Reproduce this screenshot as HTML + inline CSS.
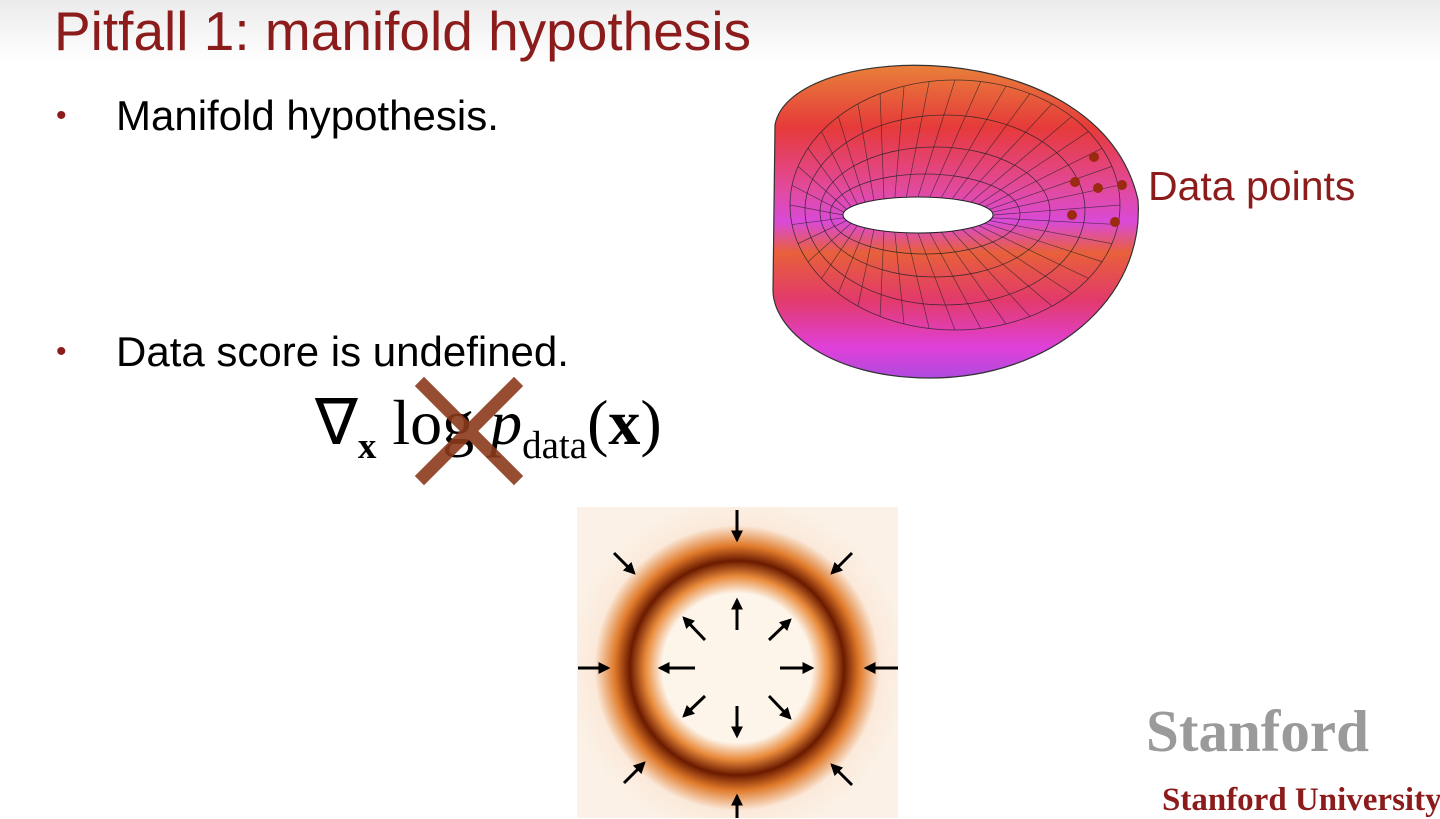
<!DOCTYPE html>
<html><head><meta charset="utf-8"><style>
body{margin:0;width:1440px;height:818px;overflow:hidden;background:#fff;position:relative;font-family:"Liberation Sans",sans-serif}
.a{position:absolute}
</style></head><body>
<div class="a" style="left:0;top:0;width:1440px;height:62px;background:linear-gradient(#ebebeb,#fff)"></div>
<div class="a" style="left:54px;top:-1px;font-size:55px;color:#8c1c1c;white-space:nowrap">Pitfall 1: manifold hypothesis</div>
<div class="a" style="left:56px;top:92px;font-size:42px;color:#000"><span style="color:#8c1c1c;font-size:30px;position:relative;top:-5px">•</span><span style="position:absolute;left:60px;white-space:nowrap">Manifold hypothesis.</span></div>
<div class="a" style="left:56px;top:328px;font-size:42px;color:#000"><span style="color:#8c1c1c;font-size:30px;position:relative;top:-5px">•</span><span style="position:absolute;left:60px;white-space:nowrap">Data score is undefined.</span></div>
<div class="a" style="left:315px;top:386px;font-family:'Liberation Serif',serif;font-size:64px;white-space:nowrap">∇<sub style="font-size:37px;font-weight:bold">x</sub> log <i>p</i><sub style="font-size:39px">data</sub>(<b>x</b>)</div>
<svg class="a" style="left:0;top:0" width="1440" height="818">
<defs>
<linearGradient id="mb" x1="0" y1="0" x2="0" y2="1">
<stop offset="0" stop-color="#e8803a"/><stop offset=".2" stop-color="#e63a3a"/><stop offset=".4" stop-color="#e24aa0"/><stop offset=".5" stop-color="#d94ad8"/><stop offset=".6" stop-color="#e8603a"/><stop offset=".75" stop-color="#e23a6a"/><stop offset=".9" stop-color="#e040d8"/><stop offset="1" stop-color="#b04ae0"/></linearGradient>
<radialGradient id="rg" cx="737" cy="668" r="170" gradientUnits="userSpaceOnUse">
<stop offset="0.44" stop-color="#fdf4ea"/><stop offset="0.54" stop-color="#e98a3a"/><stop offset="0.63" stop-color="#6b1a00"/><stop offset="0.72" stop-color="#e07a2a"/><stop offset="0.84" stop-color="#fbeadb"/><stop offset="1" stop-color="#fbf1e6"/></radialGradient>
<marker id="ah" viewBox="0 0 10 10" refX="8" refY="5" markerWidth="4" markerHeight="4" orient="auto"><path d="M0,0 L10,5 L0,10 Z" fill="#000"/></marker>
</defs>
<g>
<path d="M775,125 C790,40 1100,30 1138,200 C1145,300 1050,378 930,378 C830,378 773,330 773,290 Z" fill="url(#mb)" stroke="#333" stroke-width="1.2"/>
<g fill="none" stroke="#222" stroke-width="0.8" opacity="0.8">
<ellipse cx="955" cy="205" rx="165" ry="125"/><ellipse cx="945" cy="210" rx="140" ry="95"/><ellipse cx="935" cy="212" rx="115" ry="65"/><ellipse cx="925" cy="214" rx="95" ry="40"/>
</g>
<g stroke="#222" stroke-width="0.7" opacity="0.7" id="rad"></g>
<ellipse cx="918" cy="215" rx="75" ry="18" fill="#fff" stroke="#222"/>
</g>
<g fill="#9a2a10">
<circle cx="1094" cy="157" r="5"/><circle cx="1075" cy="182" r="5"/><circle cx="1098" cy="188" r="5"/><circle cx="1122" cy="185" r="5"/><circle cx="1072" cy="215" r="5"/><circle cx="1115" cy="222" r="5"/>
</g>
<rect x="577" y="507" width="321" height="311" fill="url(#rg)"/>
<g stroke="#000" stroke-width="3" marker-end="url(#ah)">
<line x1="737" y1="510" x2="737" y2="540"/><line x1="737" y1="830" x2="737" y2="796"/><line x1="578" y1="668" x2="608" y2="668"/><line x1="898" y1="668" x2="866" y2="668"/>
<line x1="614" y1="553" x2="634" y2="573"/><line x1="852" y1="553" x2="832" y2="573"/><line x1="624" y1="783" x2="644" y2="763"/><line x1="852" y1="785" x2="832" y2="765"/>
<line x1="737" y1="630" x2="737" y2="600"/><line x1="737" y1="706" x2="737" y2="736"/><line x1="695" y1="668" x2="660" y2="668"/><line x1="780" y1="668" x2="812" y2="668"/>
<line x1="705" y1="640" x2="684" y2="618"/><line x1="769" y1="640" x2="790" y2="620"/><line x1="705" y1="696" x2="684" y2="716"/><line x1="769" y1="696" x2="790" y2="718"/>
</g>
<g stroke="#8b3a1c" stroke-width="13" stroke-linecap="square" opacity="0.9">
<line x1="424" y1="386" x2="514" y2="476"/><line x1="514" y1="386" x2="424" y2="476"/>
</g>
</svg>
<div class="a" style="left:1148px;top:163px;font-size:41px;color:#8c1c1c;white-space:nowrap">Data points</div>
<div class="a" style="left:1146px;top:697px;font-family:'Liberation Serif',serif;font-size:59px;font-weight:bold;color:#9a9a9a">Stanford</div>
<div class="a" style="left:1162px;top:782px;font-family:'Liberation Serif',serif;font-size:33px;font-weight:bold;color:#8c1c1c;white-space:nowrap">Stanford University</div>
<script>
var g=document.getElementById('rad');
for(var i=0;i<40;i++){var t=i/40*Math.PI*2;var l=document.createElementNS('http://www.w3.org/2000/svg','line');
l.setAttribute('x1',918+75*Math.cos(t));l.setAttribute('y1',215+18*Math.sin(t));
l.setAttribute('x2',955+165*Math.cos(t));l.setAttribute('y2',205+125*Math.sin(t));


g.appendChild(l);}
</script>
</body></html>
